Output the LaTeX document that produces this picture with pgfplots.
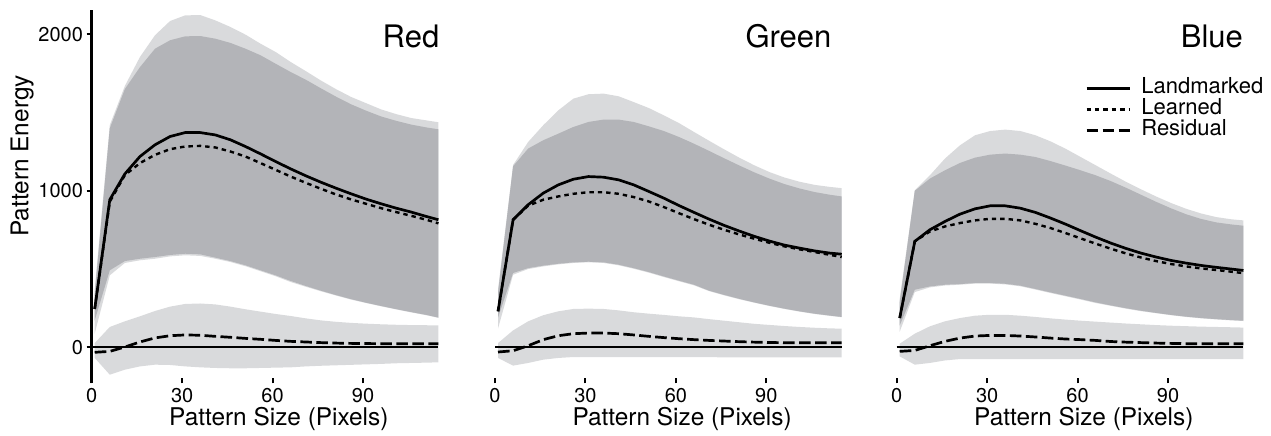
\documentclass[border=0pt]{standalone}
\usepackage{pgfplots}
\pgfplotsset{compat=1.18}
\usepackage{pgfplotstable}
\usepgfplotslibrary{fillbetween}
\usepackage{fontspec}
\setmainfont{TeX Gyre Heros}
\definecolor{lightband}{RGB}{217,218,220}
\definecolor{darkband}{RGB}{179,180,184}

\pgfplotstableread{
x    L    E    R    LT   DT   DB   LB   RT   RB
1    245  245  -32  370  340  172  88   27   -68
6    943  930  -26  1420 1400 492  460  130  -175
11   1108 1100 2    1670 1650 551  539  166  -143
16   1219 1177 34   1855 1790 566  556  198  -122
21   1294 1230 60   1994 1908 577  566  232  -111
26   1347 1266 74   2085 1962 590  581  260  -113
31   1372 1283 79   2121 1987 598  588  277  -122
36   1372 1287 77   2123 1989 594  584  280  -128
41   1357 1277 70   2089 1972 573  566  274  -132
46   1326 1251 64   2047 1945 551  545  260  -134
51   1283 1219 57   1998 1908 524  518  243  -134
56   1236 1177 51   1940 1866 492  486  228  -132
61   1187 1134 44   1887 1812 460  454  213  -130
66   1140 1091 38   1823 1759 424  417  200  -128
71   1096 1051 34   1765 1710 392  387  185  -122
76   1055 1013 30   1705 1655 362  358  172  -118
81   1017 977  27   1650 1602 334  331  163  -115
86   981  945  25   1600 1553 308  305  156  -112
91   947  917  24   1560 1512 285  283  151  -109
96   917  889  23   1520 1475 264  262  147  -106
101  889  864  23   1490 1447 244  242  144  -102
106  864  840  23   1465 1423 225  223  142  -100
111  836  815  23   1450 1405 207  205  141  -98
115  815  792  23   1438 1393 190  188  140  -96
}\redtab

\pgfplotstableread{
x    L    E    R    LT   DT   DB   LB   RT   RB
1    230  230  -30  370  350  190  120  27   -68
6    815  815  -22  1165 1157 475  464  108  -117
11   911  905  10   1312 1270 506  500  166  -100
16   985  943  49   1419 1323 522  517  205  -79
21   1038 964  74   1514 1365 534  530  230  -68
26   1074 981  87   1589 1408 543  539  245  -62
31   1091 991  91   1617 1440 547  543  247  -62
36   1087 991  91   1621 1455 543  539  245  -62
41   1070 981  87   1604 1455 528  524  236  -62
46   1038 960  79   1567 1440 506  502  224  -62
51   996  932  70   1529 1412 481  477  215  -62
56   953  896  62   1482 1382 453  449  207  -62
61   906  857  55   1433 1344 426  422  198  -62
66   862  819  49   1376 1301 400  396  191  -63
71   819  783  44   1320 1255 362  359  180  -63
76   779  751  40   1265 1208 335  332  170  -64
81   743  721  36   1212 1162 310  307  160  -64
86   709  694  33   1163 1118 287  285  150  -65
91   679  668  31   1120 1078 266  264  143  -65
96   653  645  29   1085 1043 247  245  136  -65
101  634  626  29   1058 1015 230  228  130  -65
106  616  609  29   1038 992  215  213  125  -65
111  602  591  29   1025 975  203  201  121  -65
115  595  577  29   1017 964  194  192  119  -65
}\greentab

\pgfplotstableread{
x    L    E    R    LT   DT   DB   LB   RT   RB
1    187  187  -26  310  290  140  100  23   -58
6    677  677  -20  1003 1000 368  353  87   -111
11   751  740  10   1099 1078 389  383  134  -100
16   804  772  38   1206 1131 400  395  166  -84
21   851  794  59   1291 1178 404  400  187  -75
26   885  811  72   1355 1212 411  407  202  -75
31   904  821  76   1382 1231 411  407  208  -75
36   904  821  76   1391 1238 406  402  208  -75
41   889  811  72   1382 1231 394  390  202  -75
46   862  789  66   1355 1216 373  369  194  -75
51   826  762  59   1316 1190 351  347  185  -75
56   787  730  53   1269 1161 330  326  177  -75
61   745  696  49   1216 1131 309  305  170  -75
66   704  662  44   1163 1099 287  283  164  -75
71   666  630  37   1110 1062 268  265  158  -75
76   632  600  33   1058 1020 250  247  152  -75
81   602  574  30   1010 975  234  231  147  -75
86   577  551  27   964  930  220  218  142  -75
91   555  532  25   922  888  207  205  138  -75
96   538  517  23   885  850  196  194  135  -75
101  523  504  23   855  820  187  185  132  -75
106  511  494  23   832  798  180  178  130  -75
111  500  483  23   818  785  174  172  128  -75
115  491  474  23   811  777  170  168  126  -75
}\bluetab

\pgfplotsset{
  panel/.style={
    x=1.5075pt, y=0.07825pt,
    xmin=0, xmax=116, ymin=-230, ymax=2155,
    anchor=south west, clip=false,
    axis x line*=bottom,
    axis line style={-},
    x axis line style={draw=none},
    xtick={0,30,60,90}, ytick={0,1000,2000},
    tick align=inside, major tick length=2.5pt,
    tick style={black, line width=1pt},
    scaled y ticks=false,
    /pgf/number format/1000 sep={},
    /pgf/number format/assume math mode=true,
    tick label style={font=\fontsize{10}{10}\selectfont},
    xticklabel style={inner sep=0pt, anchor=north, yshift=-2.5pt},
    label style={font=\fontsize{12.2}{12.2}\selectfont},
    xlabel={Pattern Size (Pixels)},
    xlabel style={at={(axis description cs:0.535,-0.096)}, anchor=center, inner sep=0pt},
  },
  solidline/.style={black, line width=1.35pt},
  dotline/.style={black, line width=1.2pt, dash pattern=on 2.2pt off 2pt},
  dashline/.style={black, line width=1.35pt, dash pattern=on 5.8pt off 2.2pt},
}

\newcommand{\drawpanel}[1]{%
  \addplot[draw=none, forget plot, name path=lt] table[x=x, y=LT] {#1};
  \addplot[draw=none, forget plot, name path=lb] table[x=x, y=LB] {#1};
  \addplot[draw=none, forget plot, name path=dt] table[x=x, y=DT] {#1};
  \addplot[draw=none, forget plot, name path=db] table[x=x, y=DB] {#1};
  \addplot[draw=none, forget plot, name path=rt] table[x=x, y=RT] {#1};
  \addplot[draw=none, forget plot, name path=rb] table[x=x, y=RB] {#1};
  \addplot[fill=lightband, draw=none, forget plot] fill between[of=lt and lb];
  \addplot[fill=darkband, draw=none, forget plot] fill between[of=dt and db];
  \addplot[fill=lightband, draw=none, forget plot] fill between[of=rt and rb];
  \addplot[black, line width=1pt, forget plot] coordinates {(0,0) (115,0)};
  \addplot[dashline, forget plot] table[x=x, y=R] {#1};
  \addplot[dotline, forget plot] table[x=x, y=E] {#1};
  \addplot[solidline, forget plot] table[x=x, y=L] {#1};
}

\begin{document}
\begin{tikzpicture}

\begin{axis}[panel, at={(45.85pt,25.85pt)},
  axis y line*=left,
  y axis line style={line width=1.3pt},
  y tick style={xshift=-2.5pt},
  yticklabel style={inner sep=0pt, anchor=east, xshift=-4.2pt},
  ylabel={Pattern Energy},
  ylabel style={at={(axis description cs:-0.199,0.609)}, anchor=center, inner sep=0pt},
]
\drawpanel{\redtab}
\node[anchor=east, inner sep=0pt, font=\fontsize{15.5}{15.5}\selectfont] at (axis description cs:0.995,0.929) {Red};
\end{axis}

\begin{axis}[panel, at={(247.5pt,25.85pt)}, hide y axis]
\drawpanel{\greentab}
\node[anchor=east, inner sep=0pt, font=\fontsize{15.5}{15.5}\selectfont] at (axis description cs:0.963,0.929) {Green};
\end{axis}

\begin{axis}[panel, at={(448.35pt,25.85pt)}, hide y axis,
  legend image code/.code={\draw[#1] (0pt,-1.5pt) -- (21.65pt,-1.5pt);},
  legend cell align=left,
  legend style={at={(axis description cs:0.5385,0.818)}, anchor=north west,
    draw=none, fill=none, inner sep=0pt, outer sep=0pt,
    row sep=2.5pt, column sep=5pt,
    font=\fontsize{11}{11}\selectfont,
    nodes={inner sep=0pt, text height=7.9pt, text depth=0pt}},
]
\addlegendimage{black, line width=1.5pt}
\addlegendimage{black, line width=1.2pt, dash pattern=on 2.2pt off 2pt}
\addlegendimage{black, line width=1.5pt, dash pattern=on 5.8pt off 2.2pt}
\drawpanel{\bluetab}
\legend{Landmarked, Learned, Residual}
\node[anchor=east, inner sep=0pt, font=\fontsize{15.5}{15.5}\selectfont] at (axis description cs:0.991,0.929) {Blue};
\end{axis}

\pgfresetboundingbox
\path[use as bounding box] (0,0) rectangle (635.5pt,217.5pt);
\end{tikzpicture}
\end{document}
